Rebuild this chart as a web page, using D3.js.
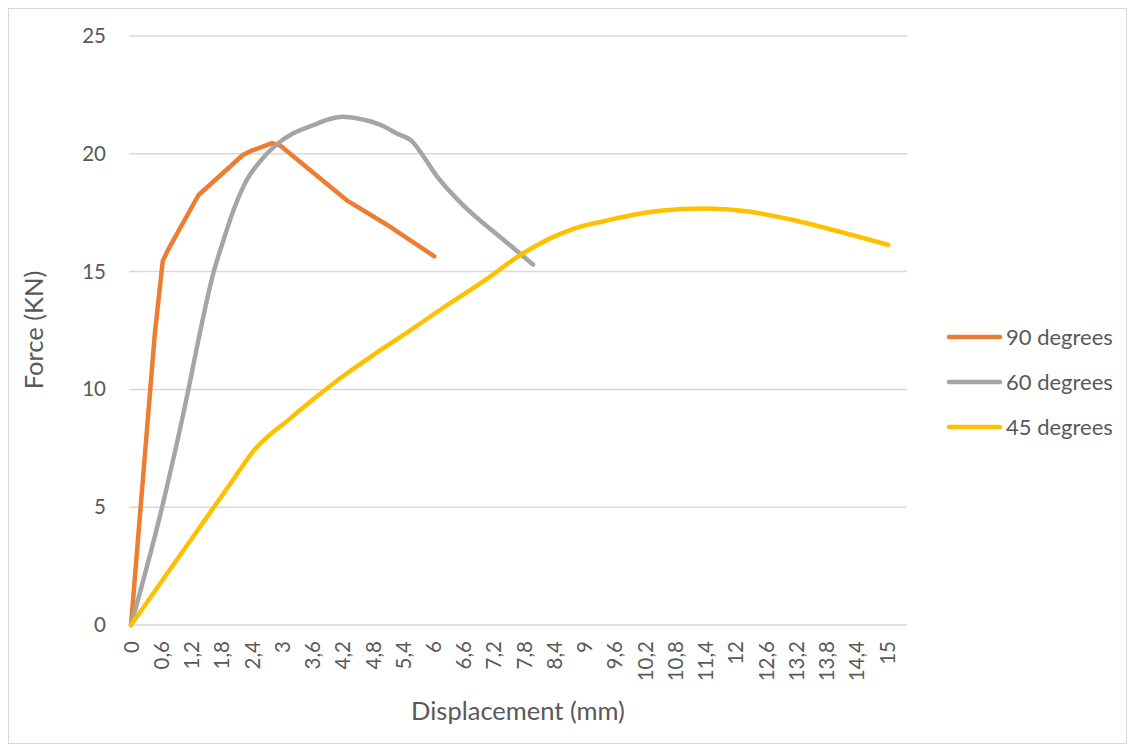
<!DOCTYPE html>
<html>
<head>
<meta charset="utf-8">
<script src="https://cdn.jsdelivr.net/npm/d3@7"></script>
<style>
  html, body { margin: 0; padding: 0; background: #fff; }
  svg { display: block; font-family: Lato, "Open Sans", sans-serif; }
</style>
</head>
<body>
<svg id="chart" width="1134" height="751"></svg>
<script>
// Force–displacement curves for three fibre orientations
const seriesNames = ["90 degrees", "60 degrees", "45 degrees"];
const seriesColors = ["#ED7D31", "#A5A5A5", "#FFC000"];

// [displacement (mm), force (kN)]
const curve90 = [[0,0],[0.47,12.3],[0.63,15.45],[0.73,15.9],[1.34,18.25],[1.6,18.75],
  [2.22,19.95],[2.38,20.12],[2.8,20.45],[2.96,20.35],[4.3,18.0],[5.07,17.0],[6.02,15.65]];
const curve60 = [[0,0],[0.6,4.85],[1.14,10],[1.3,11.7],[1.63,14.9],[1.83,16.3],[2.06,17.75],[2.3,18.9],
  [2.55,19.65],[2.88,20.38],[3.22,20.87],[3.62,21.22],[3.98,21.5],[4.2,21.57],[4.5,21.5],[4.98,21.2],
  [5.27,20.87],[5.6,20.48],[5.8,19.9],[6.07,19.05],[6.6,17.8],[7.32,16.48],[7.98,15.3]];
const curve45 = [[0,0],[1.2,3.65],[2.0,6.08],[2.42,7.36],[3.16,8.77],[3.6,9.55],[4.2,10.55],[4.8,11.45],[5.4,12.3],
  [6.13,13.37],[7.12,14.78],[7.72,15.7],[8.32,16.41],[8.9,16.9],[9.4,17.15],[10.0,17.42],[10.5,17.58],
  [11.36,17.68],[12.28,17.54],[13.14,17.19],[14.07,16.69],[15.03,16.13]];

const xTickLabels = ["0","0,6","1,2","1,8","2,4","3","3,6","4,2","4,8","5,4","6","6,6","7,2","7,8",
  "8,4","9","9,6","10,2","10,8","11,4","12","12,6","13,2","13,8","14,4","15"];
const yTickValues = [0, 5, 10, 15, 20, 25];

const xTitle = "Displacement (mm)";
const yTitle = "Force (KN)";

const svg = d3.select("#chart");
const W = 1134, H = 751;
const font = "Lato, 'Open Sans', sans-serif";

// outer chart frame
svg.append("rect")
  .attr("x", 8.5).attr("y", 8.5).attr("width", W - 16).attr("height", H - 16)
  .attr("fill", "#fff").attr("stroke", "#D9D9D9").attr("stroke-width", 1);

const x = d3.scaleLinear().domain([0, 15.4]).range([131, 907]);
const y = d3.scaleLinear().domain([0, 25]).range([625, 36]);

const textColor = "#595959";
const gridColor = "#D9D9D9";

// horizontal gridlines
svg.append("g")
  .selectAll("line")
  .data(yTickValues)
  .join("line")
  .attr("x1", 129).attr("x2", 907)
  .attr("y1", d => y(d)).attr("y2", d => y(d))
  .attr("stroke", gridColor).attr("stroke-width", 1.5);

// y axis labels
const yAxis = d3.axisLeft(y).tickValues(yTickValues).tickSize(0).tickPadding(0).tickFormat(d3.format("d"));
svg.append("g")
  .attr("transform", "translate(106,0)")
  .call(yAxis)
  .call(g => g.select(".domain").remove())
  .call(g => g.selectAll("text")
    .attr("fill", textColor).attr("font-size", 20.5).attr("font-family", font));

// x axis labels, rotated
const xTickValues = xTickLabels.map(s => +s.replace(",", "."));
const xAxis = d3.axisBottom(x).tickValues(xTickValues).tickSize(0).tickPadding(0)
  .tickFormat((d, i) => xTickLabels[i]);
svg.append("g")
  .attr("transform", "translate(0,641)")
  .call(xAxis)
  .call(g => g.select(".domain").remove())
  .call(g => g.selectAll("text")
    .attr("fill", textColor).attr("font-size", 20.5).attr("font-family", font)
    .attr("transform", "rotate(-90)")
    .attr("text-anchor", "end")
    .attr("x", 0).attr("y", 0).attr("dy", "0.35em"));

// axis titles
svg.append("text")
  .attr("x", 518).attr("y", 720)
  .attr("text-anchor", "middle")
  .attr("fill", textColor).attr("font-size", 25.5)
  .text(xTitle);

svg.append("text")
  .attr("transform", "translate(43,330) rotate(-90)")
  .attr("text-anchor", "middle")
  .attr("fill", textColor).attr("font-size", 25.5)
  .text(yTitle);

// curves: the 90° trace is a polyline, the others are smoothed
const curves = [curve90, curve60, curve45];
const curveTypes = [d3.curveLinear, d3.curveMonotoneX, d3.curveMonotoneX];
svg.append("g")
  .selectAll("path")
  .data(curves)
  .join("path")
  .attr("d", (d, i) => d3.line().x(p => x(p[0])).y(p => y(p[1])).curve(curveTypes[i])(d))
  .attr("fill", "none")
  .attr("stroke", (d, i) => seriesColors[i])
  .attr("stroke-width", 4.5)
  .attr("stroke-linejoin", "round")
  .attr("stroke-linecap", "round");

// legend
const legend = svg.append("g")
  .selectAll("g")
  .data(seriesNames)
  .join("g")
  .attr("transform", (d, i) => `translate(0,${337 + i * 45})`);
legend.append("line")
  .attr("x1", 949).attr("x2", 1000)
  .attr("y1", 0).attr("y2", 0)
  .attr("stroke", (d, i) => seriesColors[i])
  .attr("stroke-width", 4.5)
  .attr("stroke-linecap", "round");
legend.append("text")
  .attr("x", 1006).attr("y", 0).attr("dy", "0.35em")
  .attr("fill", textColor).attr("font-size", 22)
  .text(d => d);
</script>
</body>
</html>
